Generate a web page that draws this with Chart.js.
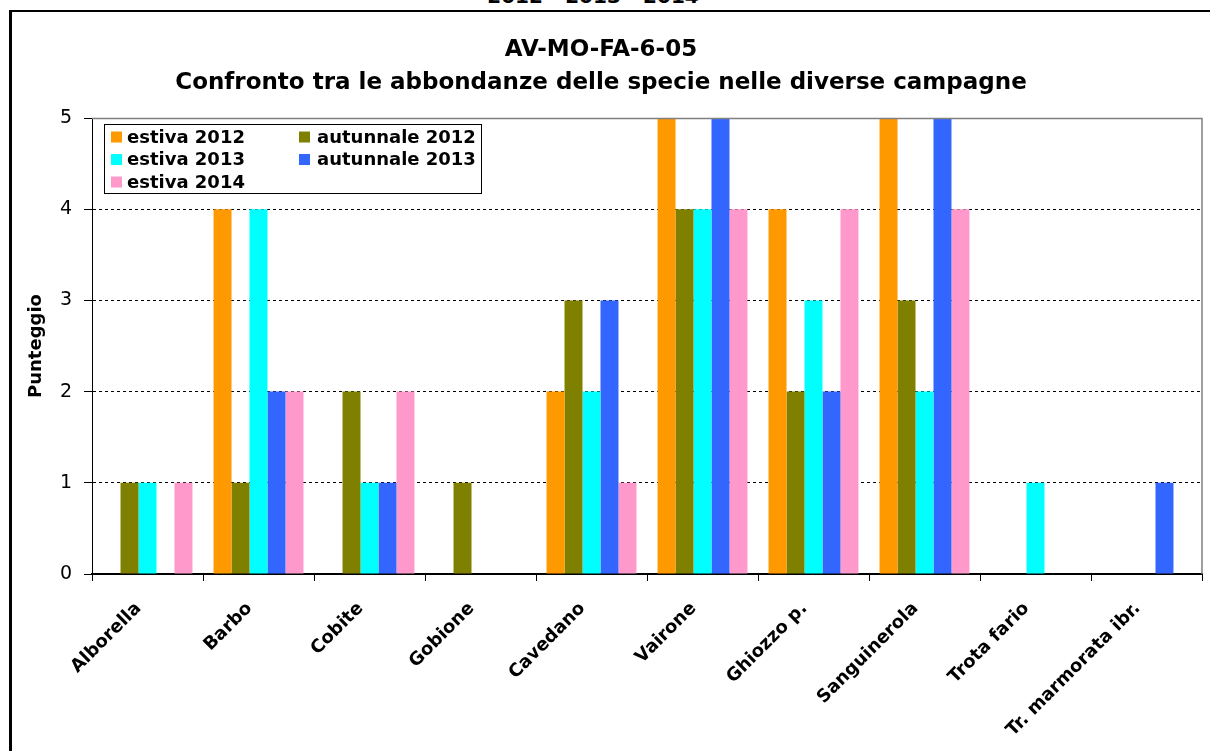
<!DOCTYPE html>
<html lang="it">
<head>
<meta charset="utf-8">
<title>AV-MO-FA-6-05</title>
<script src="https://cdn.jsdelivr.net/npm/chart.js@4.4.0/dist/chart.umd.min.js"></script>
<style>
  html, body { margin: 0; padding: 0; background: #fff; overflow: hidden; }
  body { width: 1210px; height: 751px; position: relative; font-family: "DejaVu Sans", Verdana, sans-serif; }
  #sopra { position: absolute; left: 0; width: 1186px; top: -14px; text-align: center; font-weight: bold; font-size: 20px; line-height: 20px; }
  #grafico { position: absolute; left: 0; top: 0; }
  #cornice { position: absolute; left: 9px; top: 10px; width: 1300px; height: 900px; border-left: 3px solid #000; border-top: 2px solid #000; pointer-events: none; }
</style>
</head>
<body>
<div id="sopra">2012 - 2013 - 2014</div>
<canvas id="grafico" width="1210" height="751"></canvas>
<div id="cornice"></div>
<script>
// Specie e punteggi per campagna
const categorie = ["Alborella", "Barbo", "Cobite", "Gobione", "Cavedano", "Vairone", "Ghiozzo p.", "Sanguinerola", "Trota fario", "Tr. marmorata ibr."];
const estiva2012 = [0, 4, 0, 0, 2, 5, 4, 5, 0, 0];
const autunnale2012 = [1, 1, 2, 1, 3, 4, 2, 3, 0, 0];
const estiva2013 = [1, 4, 1, 0, 2, 4, 3, 2, 1, 0];
const autunnale2013 = [0, 2, 1, 0, 3, 5, 2, 5, 0, 1];
const estiva2014 = [1, 2, 2, 0, 1, 4, 4, 4, 0, 0];
const tickY = [0, 1, 2, 3, 4, 5];

const FONT = '"DejaVu Sans", Verdana, sans-serif';

document.addEventListener("DOMContentLoaded", () => {
  // Bordo grigio sopra e a destra dell'area del grafico
  const bordoArea = {
    id: "bordoArea",
    afterDatasetsDraw(chart) {
      const { ctx, chartArea: a } = chart;
      ctx.save();
      ctx.strokeStyle = "#808080";
      ctx.lineWidth = 1.5;
      ctx.beginPath();
      ctx.moveTo(a.left, a.top + 0.5);
      ctx.lineTo(a.right, a.top + 0.5);
      ctx.lineTo(a.right, a.bottom);
      ctx.stroke();
      ctx.restore();
    },
  };

  // Legenda a due colonne dentro l'area del grafico
  const legendaRiquadro = {
    id: "legendaRiquadro",
    afterDraw(chart) {
      const { ctx, chartArea } = chart;
      const x0 = chartArea.left + 12;
      const y0 = chartArea.top + 6;
      ctx.save();
      ctx.fillStyle = "#fff";
      ctx.fillRect(x0, y0, 377, 69);
      ctx.strokeStyle = "#000";
      ctx.lineWidth = 1;
      ctx.strokeRect(x0 + 0.5, y0 + 0.5, 377, 69);
      ctx.font = "bold 18px " + FONT;
      ctx.textBaseline = "middle";
      chart.data.datasets.forEach((ds, i) => {
        const col = i % 2;
        const riga = Math.floor(i / 2);
        const sx = x0 + 7 + col * 188;
        const cy = y0 + 13 + riga * 22.5;
        ctx.fillStyle = ds.backgroundColor;
        ctx.fillRect(sx, cy - 5.5, 11, 11);
        ctx.fillStyle = "#000";
        ctx.fillText(ds.label, sx + 16 + col * 2, cy + 1);
      });
      ctx.restore();
    },
  };

  const ctx = document.getElementById("grafico").getContext("2d");
  new Chart(ctx, {
    type: "bar",
    data: {
      labels: categorie,
      datasets: [
        { label: "estiva 2012", data: estiva2012, backgroundColor: "#FF9900" },
        { label: "autunnale 2012", data: autunnale2012, backgroundColor: "#808000" },
        { label: "estiva 2013", data: estiva2013, backgroundColor: "#00FFFF" },
        { label: "autunnale 2013", data: autunnale2013, backgroundColor: "#3366FF" },
        { label: "estiva 2014", data: estiva2014, backgroundColor: "#FF99CC" },
      ],
    },
    options: {
      responsive: false,
      animation: false,
      categoryPercentage: 0.81,
      barPercentage: 1,
      layout: { padding: { left: 0, right: 8, top: 0, bottom: 0 } },
      plugins: {
        legend: { display: false },
        tooltip: { enabled: false },
        title: {
          display: true,
          text: ["AV-MO-FA-6-05", "Confronto tra le abbondanze delle specie nelle diverse campagne"],
          color: "#000",
          font: { family: FONT, size: 23, weight: "bold", lineHeight: 1.435 },
          padding: { top: 33.5, bottom: 18.5 },
        },
      },
      scales: {
        x: {
          grid: { display: true, drawOnChartArea: false, offset: true, tickLength: 7, color: "#000" },
          border: { color: "#000", width: 2 },
          ticks: {
            color: "#000",
            font: { family: FONT, size: 18, weight: "bold" },
            minRotation: 45,
            maxRotation: 45,
            autoSkip: false,
            padding: 17,
            labelOffset: -9,
          },
          afterFit(s) { s.height = 177; },
        },
        y: {
          min: 0,
          max: 5,
          afterBuildTicks(s) { s.ticks = tickY.map((v) => ({ value: v })); },
          grid: { color: "#000", tickColor: "#000", tickLength: 8 },
          border: { color: "#000", width: 1, dash: [3, 3] },
          ticks: { color: "#000", font: { family: FONT, size: 19 }, padding: 12 },
          title: {
            display: true,
            text: "Punteggio",
            color: "#000",
            font: { family: FONT, size: 18, weight: "bold" },
            padding: { top: 26, bottom: 0 },
          },
          afterFit(s) { s.width = 92; },
        },
      },
    },
    plugins: [bordoArea, legendaRiquadro],
  });
});
</script>
</body>
</html>
